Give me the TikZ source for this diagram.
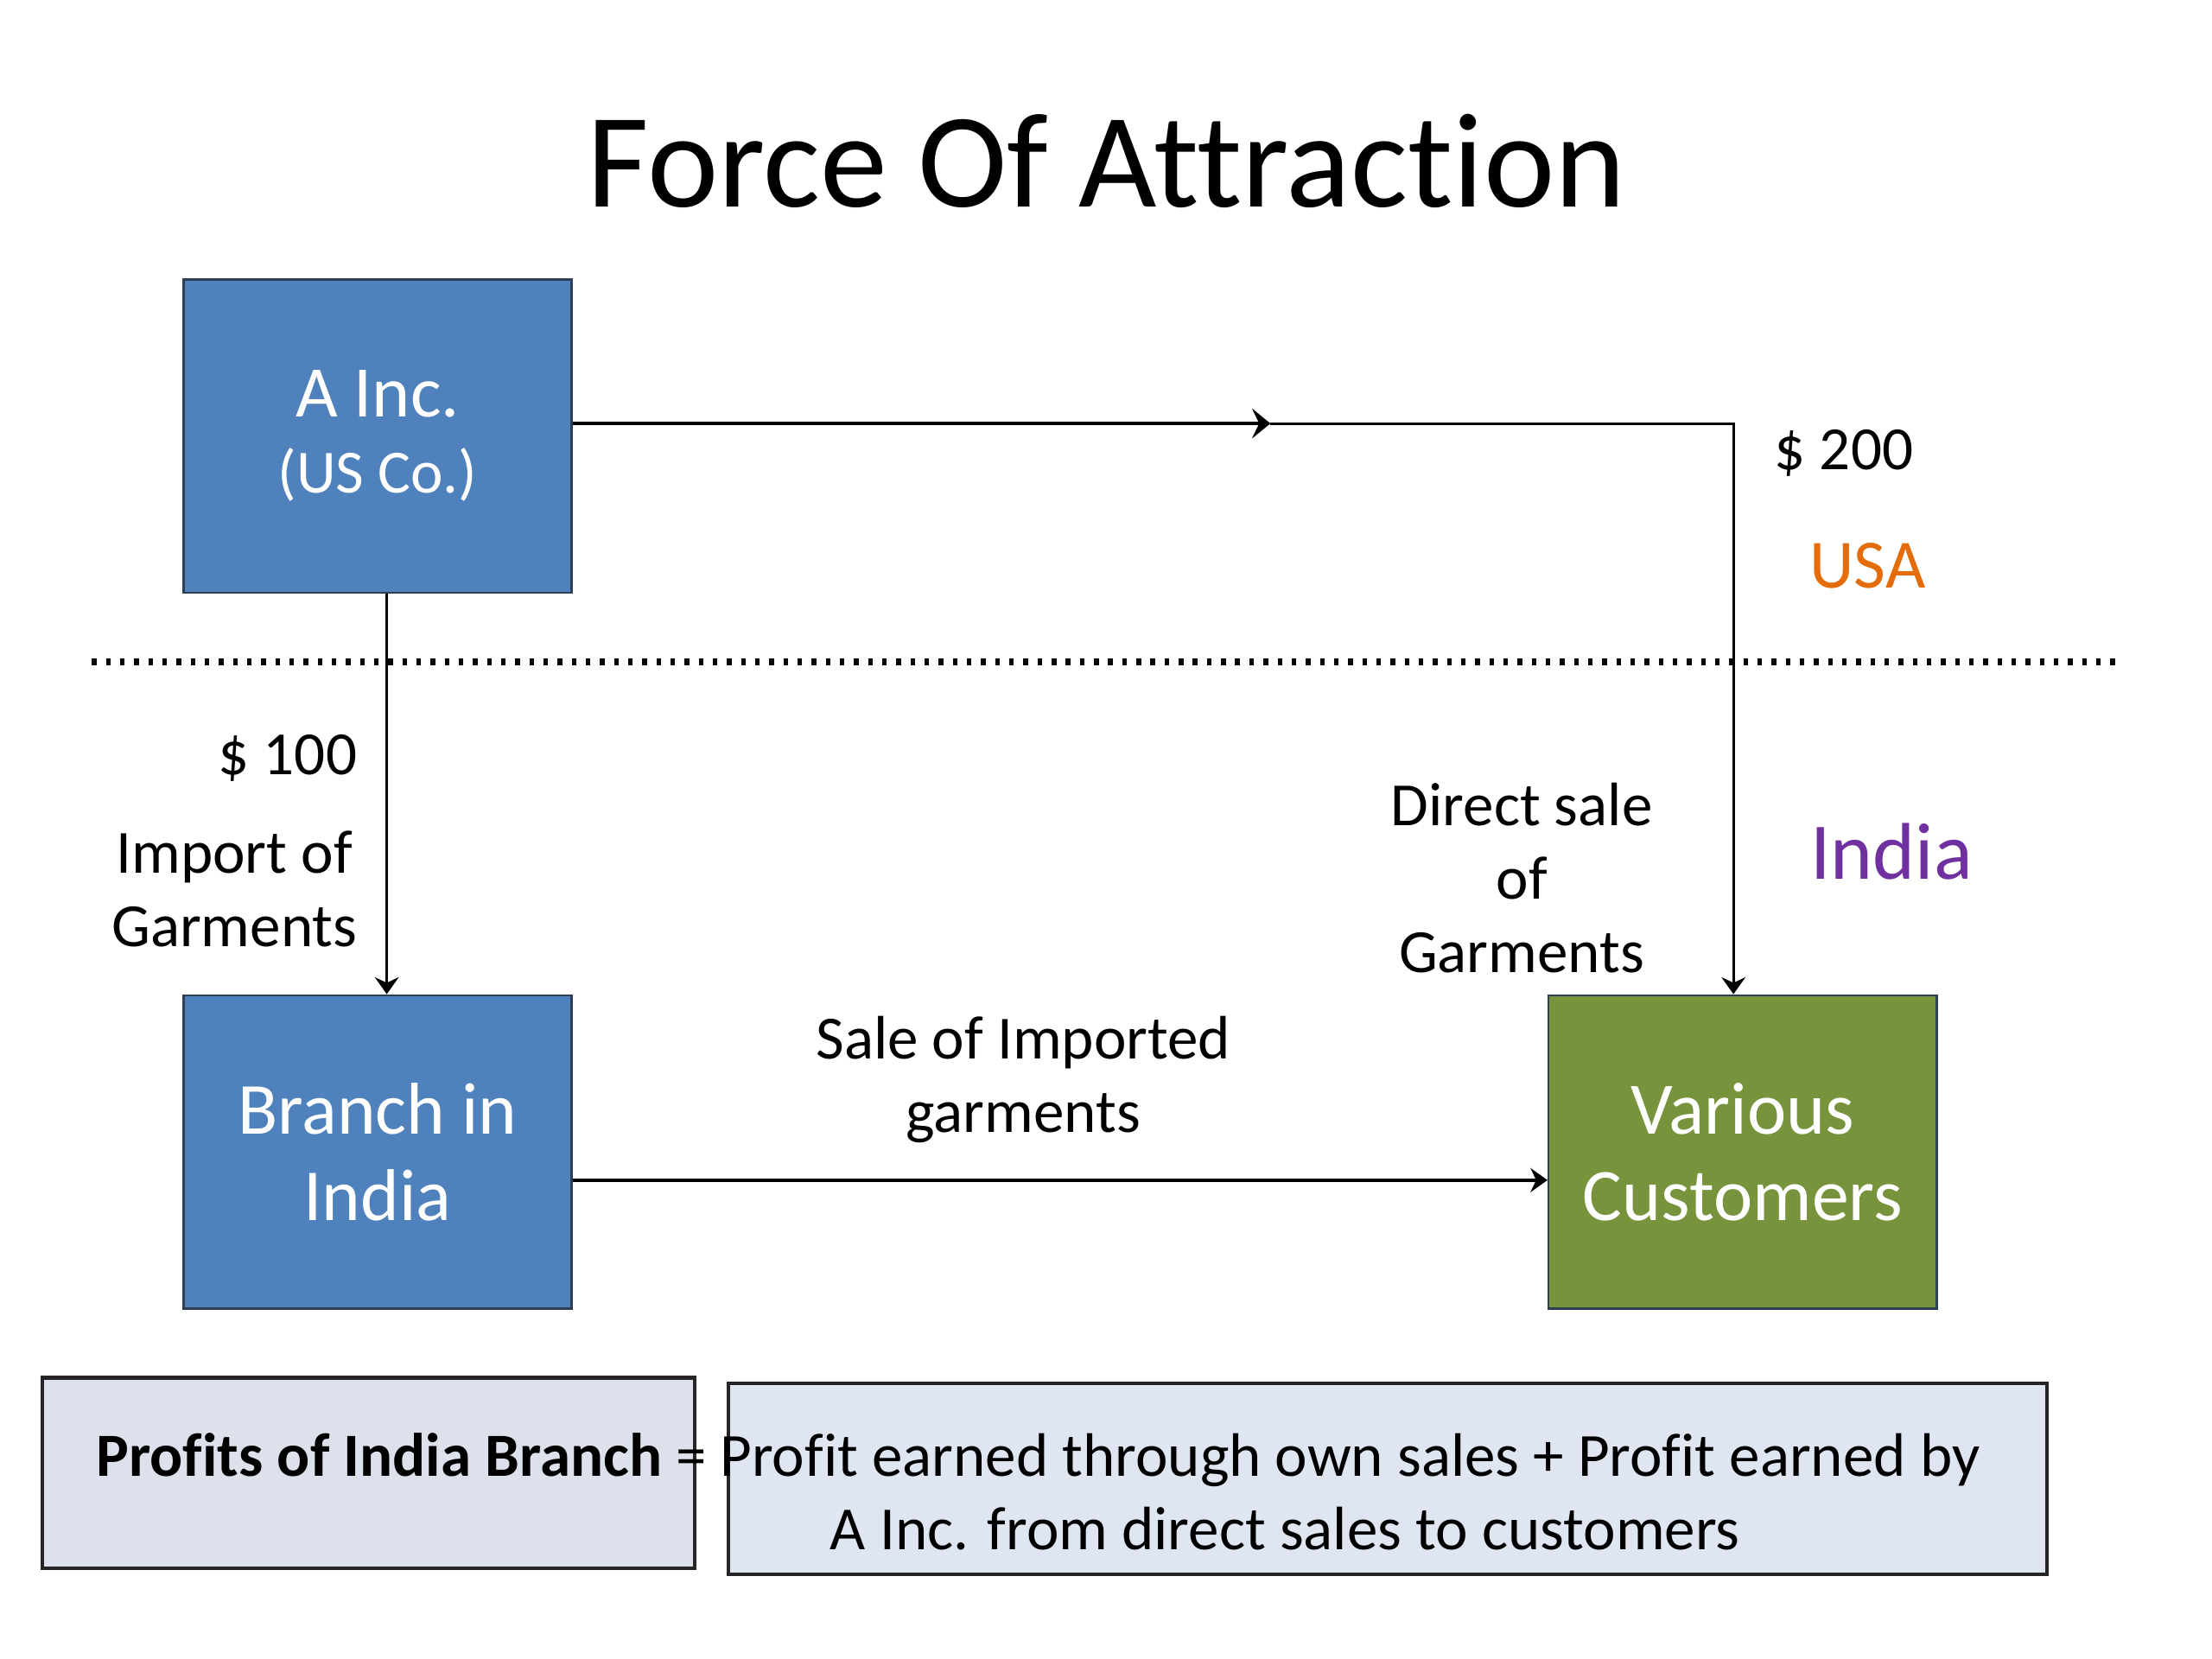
\documentclass[tikz,border=0pt]{standalone}
\usepackage{fontspec}
\setmainfont{Carlito}[Ligatures=NoCommon]
\usetikzlibrary{arrows.meta}
\definecolor{boxblue}{HTML}{4F81BD}
\definecolor{boxgreen}{HTML}{77933C}
\definecolor{boxedge}{HTML}{2E3F55}
\definecolor{usaorange}{HTML}{E46C0A}
\definecolor{indiapurple}{HTML}{7030A0}
\definecolor{noteleft}{HTML}{DCE1EC}
\definecolor{noteright}{HTML}{DFE6F2}
\tikzset{
  entity/.style={draw=boxedge, line width=1.5pt, minimum width=275pt, minimum height=222pt,
    inner sep=0pt, text=white, align=center},
  lbl/.style={font=\fontsize{43.5}{52}\selectfont, align=center, inner sep=0pt},
  conn/.style={line width=1.8pt, -{Stealth[length=12pt,width=17pt,inset=4pt]}},
  notebox/.style={draw=black!85, line width=2.5pt, inner sep=0pt},
}
\begin{document}
\begin{tikzpicture}[x=1pt,y=-1pt]
\useasboundingbox[fill=white] (0,0) rectangle (1567,1175);
% title
\node[inner sep=0pt, font=\fontsize{95.5}{110}\selectfont] (title) at (784,114) {Force Of Attraction};
% boxes
\node[entity, fill=boxblue, font=\fontsize{43.5}{54}\selectfont] (A) at (267.5,309)
  {{\fontsize{51.5}{54}\selectfont A Inc.}\\(US Co.)};
\node[entity, fill=boxblue, font=\fontsize{52}{61}\selectfont] (B) at (267.5,816) {Branch in\\India};
\node[entity, fill=boxgreen, font=\fontsize{52.5}{61}\selectfont] (C) at (1234.5,816) {Various\\Customers};
% border dotted line
\coordinate (dl) at (65,469);
\coordinate (dr) at (1500,469);
\draw[line width=5pt, dash pattern=on 3.3pt off 6.7pt] (dl) -- (dr);
% connectors
\coordinate (mid) at (900,300);
\draw[line width=2.4pt, -{Stealth[length=13pt,width=21pt,inset=5pt]}] ([yshift=9pt]A.east) -- (mid);
\draw[conn] (mid) -| ([xshift=-6.5pt]C.north);
\draw[conn] ([xshift=6.5pt]A.south) -- ([xshift=6.5pt]B.north);
\draw[conn, line width=2.2pt] ([yshift=-20pt]B.east) -- ([yshift=-20pt]C.west);
% labels
\node[lbl, anchor=west] (l200) at (1257,321) {\$ 200};
\node[inner sep=0pt, text=usaorange, font=\fontsize{49}{58}\selectfont] (usa) at (1323,401) {USA};
\node[inner sep=0pt, text=indiapurple, font=\fontsize{57}{66}\selectfont] (india) at (1340,603) {India};
\node[lbl, anchor=east] (l100) at (253,537) {\$ 100};
\node[lbl] (imp) at (166,630) {Import of\\Garments};
\node[lbl] (dir) at (1078,622) {Direct sale\\of\\Garments};
\node[lbl] (sale) at (725,765) {Sale of Imported\\garments};
% bottom note
\node[notebox, fill=noteleft, minimum width=462pt, minimum height=135pt] (nl) at (261,1043.5) {};
\node[notebox, fill=noteright, minimum width=934pt, minimum height=135pt] (nr) at (983,1047.5) {};
\node[inner sep=0pt, anchor=base west, font=\fontsize{43.5}{52}\selectfont] (eq1) at (68,1046)
  {\textbf{Profits of India Branch} = Profit earned through own sales + Profit earned by};
\node[inner sep=0pt, anchor=base west, font=\fontsize{43.5}{52}\selectfont] (eq2) at (588,1098)
  {A Inc. from direct sales to customers};
\end{tikzpicture}
\end{document}
